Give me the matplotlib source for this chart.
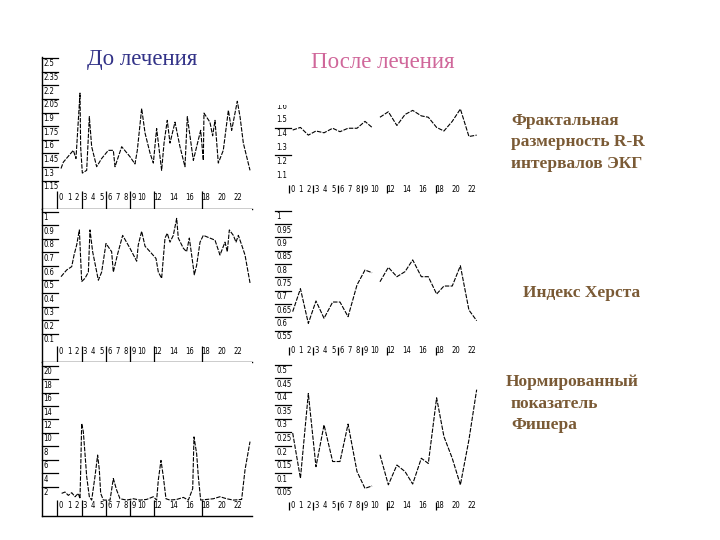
import numpy as np
import matplotlib
matplotlib.use('Agg')
import matplotlib.pyplot as plt

# --- data ---
# fractal dimension of R-R intervals, before treatment
fractal_before_x = [0, 0.29, 1.53, 1.86, 2.36, 2.44, 2.65, 3.19, 3.52, 3.81,
                    4.43, 5.05, 5.88, 6.5, 6.71, 7.54, 8.57, 9.19, 9.48, 10.02,
                    10.44, 11.06, 11.47, 11.88, 12.5, 12.8, 13.2, 13.54, 14.16, 14.78,
                    15.4, 15.69, 16.02, 16.44, 16.85, 17.35, 17.68, 17.76, 18.5, 18.84,
                    19.13, 19.54, 20.16, 20.79, 21.2, 21.9, 22.24, 22.65, 23.48]
fractal_before = [1.35, 1.42, 1.55, 1.46, 2.18, 1.59, 1.30, 1.33, 1.92, 1.59,
                  1.37, 1.46, 1.55, 1.55, 1.37, 1.59, 1.48, 1.40, 1.55, 2.01,
                  1.74, 1.52, 1.41, 1.79, 1.33, 1.63, 1.88, 1.63, 1.86, 1.59,
                  1.37, 1.92, 1.71, 1.44, 1.59, 1.77, 1.44, 1.96, 1.86, 1.71,
                  1.88, 1.41, 1.55, 1.99, 1.77, 2.09, 1.92, 1.63, 1.33]

# Hurst index, before treatment
hurst_before_x = [0, 0.70, 1.33, 1.62, 1.95, 2.28, 2.57, 2.98, 3.4, 3.6,
                  3.93, 4.64, 5.05, 5.59, 6.29, 6.5, 7.0, 7.66, 8.57, 9.4,
                  9.6, 10.02, 10.44, 11.06, 11.8, 12.09, 12.5, 12.92, 13.2, 13.54,
                  13.95, 14.37, 14.57, 15.2, 15.6, 15.94, 16.23, 16.56, 16.85, 17.27,
                  17.68, 18.5, 19.13, 19.75, 20.37, 20.66, 20.91, 21.41, 21.74, 22.03,
                  22.44, 22.86, 23.48]
hurst_before = [0.566, 0.615, 0.64, 0.725, 0.80, 0.91, 0.53, 0.554, 0.60, 0.91,
                0.75, 0.54, 0.60, 0.81, 0.75, 0.60, 0.725, 0.87, 0.775, 0.68,
                0.80, 0.90, 0.79, 0.75, 0.70, 0.60, 0.554, 0.85, 0.885, 0.82,
                0.87, 0.995, 0.85, 0.775, 0.75, 0.85, 0.725, 0.58, 0.65, 0.82,
                0.87, 0.85, 0.835, 0.725, 0.82, 0.75, 0.91, 0.87, 0.82, 0.87,
                0.80, 0.725, 0.52]

# normalized Fisher index, before treatment
fisher_before_x = [0.08, 0.5, 0.91, 1.33, 1.74, 2.15, 2.36, 2.44, 2.57, 2.77,
                   2.98, 3.19, 3.52, 3.81, 4.22, 4.55, 4.76, 4.93, 5.26, 6.09,
                   6.5, 6.91, 7.33, 8.16, 8.99, 9.81, 10.64, 11.47, 11.88, 12.09,
                   12.42, 12.71, 13.04, 13.54, 14.37, 15.2, 15.82, 16.36, 16.52, 16.85,
                   17.06, 17.35, 18.1, 18.92, 19.75, 20.58, 21.41, 22.44, 22.86, 23.48]
fisher_before = [1.9, 2.1, 1.6, 2.0, 1.4, 1.9, 1.1, 5.1, 12.3, 11.1,
                 7.8, 4.4, 1.4, 0.9, 4.4, 7.6, 5.4, 1.9, 0.9, 0.9,
                 4.1, 2.4, 1.1, 0.9, 1.1, 0.9, 1.0, 1.4, 0.9, 3.9,
                 6.8, 4.4, 1.1, 0.9, 1.0, 1.3, 0.9, 2.6, 10.3, 7.8,
                 4.4, 0.9, 1.0, 1.1, 1.4, 1.1, 0.9, 1.0, 5.4, 9.6]

# after treatment (nan = break in the line)
after_x = [0, 0.95, 1.92, 2.86, 3.85, 4.91, 5.81, 6.8, 7.9, 8.88,
           9.75, 10.2, 10.72, 11.75, 12.8, 13.8, 14.74, 15.8, 16.66, 17.68,
           18.58, 19.6, 20.6, 21.65, 22.6]
fractal_after = [1.427, 1.446, 1.39, 1.42, 1.407, 1.44, 1.415, 1.44, 1.44, 1.49,
                 1.446, np.nan, 1.52, 1.56, 1.46, 1.54, 1.57, 1.53, 1.52, 1.446,
                 1.42, 1.49, 1.58, 1.38, 1.39]
hurst_after = [0.644, 0.73, 0.60, 0.684, 0.619, 0.68, 0.68, 0.625, 0.744, 0.80,
               0.79, np.nan, 0.756, 0.81, 0.775, 0.794, 0.838, 0.775, 0.775, 0.71,
               0.74, 0.74, 0.816, 0.65, 0.61]
fisher_after = [0.27, 0.103, 0.416, 0.146, 0.30, 0.165, 0.165, 0.303, 0.128, 0.066,
                0.075, np.nan, 0.19, 0.079, 0.152, 0.128, 0.082, 0.177, 0.158, 0.40,
                0.257, 0.177, 0.079, 0.245, 0.43]

# tick labels
xtick_vals = [0, 1, 2, 3, 4, 5, 6, 7, 8, 9, 10, 12, 14, 16, 18, 20, 22]
xbar_vals = [-0.45, 2.55, 5.55, 8.55, 11.55, 17.55]
yt_fractal_before = ['2.5', '2.35', '2.2', '2.05', '1.9', '1.75', '1.6', '1.45', '1.3', '1.15']
yt_hurst_before = ['1', '0.9', '0.8', '0.7', '0.6', '0.5', '0.4', '0.3', '0.2', '0.1']
yt_fisher_before = ['20', '18', '16', '14', '12', '10', '8', '6', '4', '2']
yt_fractal_after = ['1.6', '1.5', '1.4', '1.3', '1.2', '1.1']
yt_hurst_after = ['1', '0.95', '0.9', '0.85', '0.8', '0.75', '0.7', '0.65', '0.6', '0.55']
yt_fisher_after = ['0.5', '0.45', '0.4', '0.35', '0.3', '0.25', '0.2', '0.15', '0.1', '0.05']

W, H = 720, 540
fig = plt.figure(figsize=(7.2, 5.4), dpi=100)
tick_font = dict(family='DejaVu Sans', size=5.5, fontstretch='condensed', color='black')
line_style = dict(color='black', lw=0.8, linestyle=(0, (4, 1.2)))


def panel(box, x0_px, px_unit, yref, xlabel_px, ylabels, left_col, tick_lines=None):
    # box = (left, right, top, bottom) in figure pixels
    l, r, t, b = box
    ax = fig.add_axes([l / W, 1 - b / H, (r - l) / W, (b - t) / H])
    (v1, p1), (v2, p2) = yref
    k = (v1 - v2) / (p2 - p1)
    ax.set_ylim(v2 - (b - p2) * k, v1 + (p1 - t) * k)
    ax.set_xlim(-(x0_px - l) / px_unit, (r - x0_px) / px_unit)
    ax.set_xticks([])
    ax.set_yticks([])
    for s in ax.spines.values():
        s.set_visible(False)
    if left_col:
        ax.spines['left'].set_visible(True)
        ax.spines['bottom'].set_visible(True)
        ax.spines['left'].set_linewidth(1.0)
        ax.spines['bottom'].set_linewidth(1.0)
    ytr = ax.get_yaxis_transform()
    xtr = ax.get_xaxis_transform()
    lab_w = 16 / (r - l)
    for lab in ylabels:
        v = float(lab)
        ax.text(1.5 / (r - l), v, lab, transform=ytr, ha='left', va='center',
                clip_on=True, **tick_font)
        if tick_lines is None or lab in tick_lines:
            ax.plot([0, lab_w], [v + 6 * k] * 2, transform=ytr, color='black',
                    lw=0.9, clip_on=False)
    yl = (b - xlabel_px) / (b - t)
    for v in xtick_vals:
        ax.text(v, yl, str(v), transform=xtr, ha='center', va='center', **tick_font)
    if left_col:
        ax.vlines(xbar_vals, 0, (b - xlabel_px + 6) / (b - t), transform=xtr,
                  color='black', lw=0.9)
    else:
        ax.vlines(xbar_vals, yl - 4 / (b - t), yl + 4 / (b - t), transform=xtr,
                  color='black', lw=0.9)
    return ax


ax1 = panel((42, 252, 57, 209), 61, 8.05, [(2.5, 64), (1.15, 186.7)], 197,
            yt_fractal_before, True)
ax1.plot(fractal_before_x, fractal_before, **line_style)

ax2 = panel((42, 252, 209, 362), 61, 8.05, [(1.0, 217.7), (0.1, 340)], 351.7,
            yt_hurst_before, True)
ax2.plot(hurst_before_x, hurst_before, **line_style)

ax3 = panel((42, 252, 362, 516), 61, 8.05, [(20, 371.7), (2, 492.7)], 506,
            yt_fisher_before, True)
ax3.plot(fisher_before_x, fisher_before, **line_style)

ax4 = panel((275, 485, 105, 200), 292.7, 8.14, [(1.5, 120), (1.1, 175)], 189.3,
            yt_fractal_after, False, tick_lines=['1.4', '1.2'])
ax4.plot(after_x, fractal_after, **line_style)

ax5 = panel((275, 485, 207, 360), 292.7, 8.14, [(1.0, 216.7), (0.55, 336.7)], 350.7,
            yt_hurst_after, False)
ax5.plot(after_x, hurst_after, **line_style)

ax6 = panel((275, 485, 362, 515), 292.7, 8.14, [(0.5, 370.7), (0.05, 492.7)], 505.7,
            yt_fisher_after, False)
ax6.plot(after_x, fisher_after, **line_style)

# titles and captions
serif = 'Liberation Serif'
fig.text(142 / W, 1 - 60 / H, 'До лечения', ha='center', va='center',
         family=serif, size=16.5, color='#333388')
fig.text(383 / W, 1 - 63 / H, 'После лечения', ha='center', va='center',
         family=serif, size=16.5, color='#d0679a')

brown = '#7a5a35'
captions = [(511, 121, 'Фрактальная'), (511, 142, 'размерность R-R'),
            (511, 164, 'интервалов ЭКГ'), (523, 293, 'Индекс Херста'),
            (506, 382, 'Нормированный'), (511, 404, 'показатель'),
            (511, 425, 'Фишера')]
for x, y, s in captions:
    fig.text(x / W, 1 - y / H, s, ha='left', va='center', family=serif,
             size=12.5, weight='bold', color=brown)

fig.savefig('out.png', dpi=100)
